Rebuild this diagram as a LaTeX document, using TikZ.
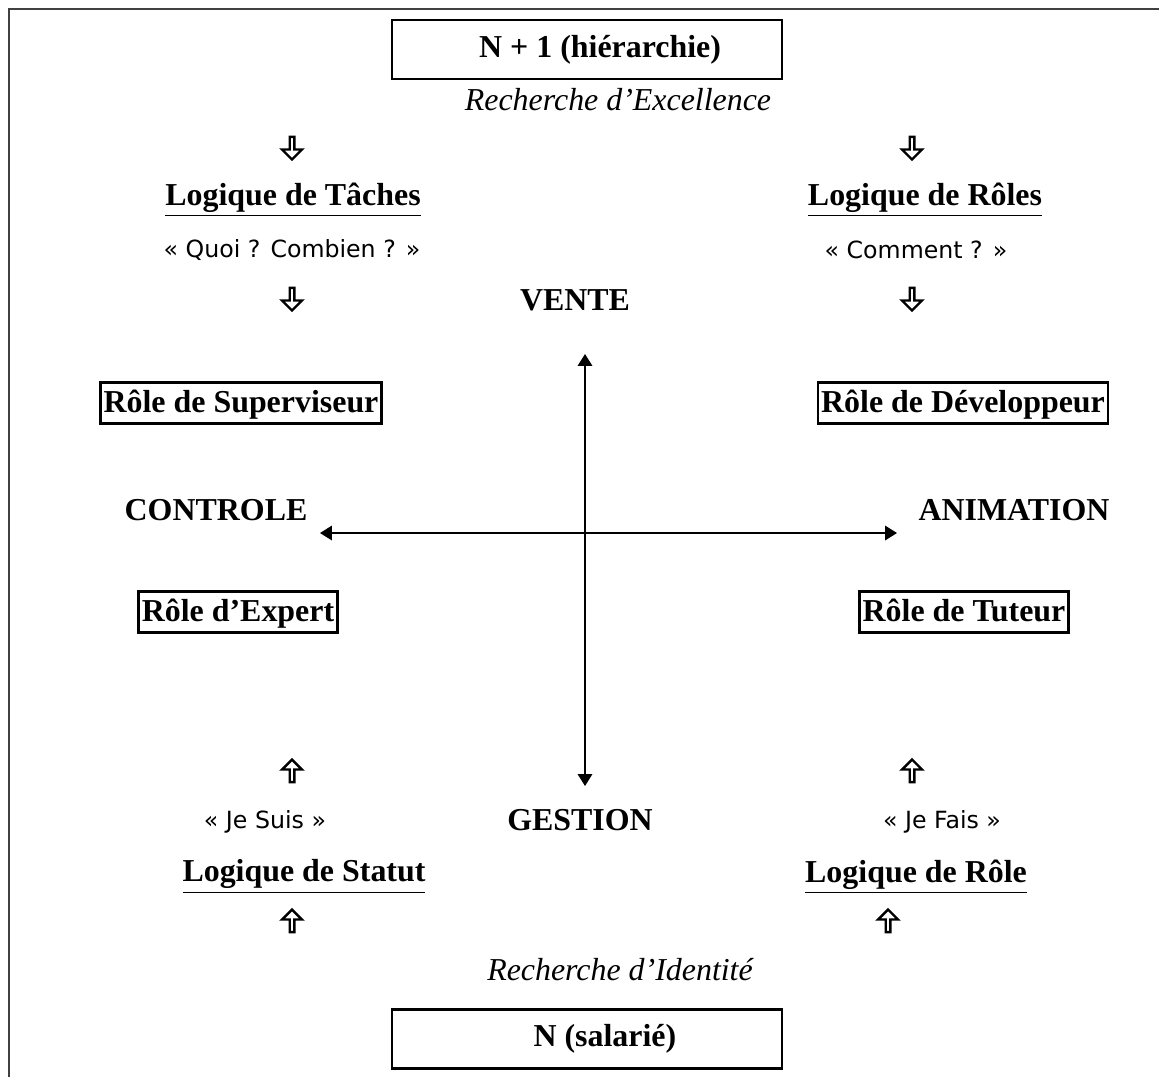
\documentclass[tikz,border=0pt]{standalone}
\usepackage{fontspec}
\setmainfont{Liberation Serif}
\newfontfamily\sansfont{DejaVu Sans}
\usetikzlibrary{arrows.meta,shapes.arrows}

\begin{document}
\begin{tikzpicture}[x=0.376pt, y=-0.376pt, thick,
    every node/.style = {font=\fontsize{12}{14}\selectfont},
    main/.style = {font=\fontsize{12}{14}\selectfont\bfseries, inner sep=0pt},
    logic/.style = {font=\fontsize{12}{14}\selectfont\bfseries, inner sep=0pt},
    rolebox/.style = {draw, line width=0.9pt, font=\fontsize{12}{14}\selectfont\bfseries, inner sep=1.2pt, text height=10pt, text depth=3pt},
    levelbox/.style = {draw, line width=0.8pt, minimum width=146.6pt, minimum height=22.2pt, inner sep=0pt, font=\fontsize{12}{14}\selectfont\bfseries},
    quote/.style = {font=\sansfont\fontsize{8.9}{10}\selectfont, inner sep=0pt},
    hollow/.style = {single arrow, draw, line width=0.9pt, inner sep=0pt, minimum height=8.5pt, minimum width=7.5pt, single arrow head extend=1.5pt},
    down/.style = {hollow, shape border rotate=270},
    up/.style = {hollow, shape border rotate=90},
    axis/.style = {line width=0.5pt, {Triangle[length=4.5pt,width=5.5pt]}-{Triangle[length=4.5pt,width=5.5pt]}}]
% page frame (top and left only)
\useasboundingbox (0,0) rectangle (1159,1077);
\draw[line width=0.8pt, black!75] (1159,9) -- (9,9) -- (9,1077);

    \node[levelbox] (chef) at (587,49.5) {\hspace*{9.8pt}N + 1 (hiérarchie)};
    \node[inner sep=0pt, font=\fontsize{12}{14}\selectfont\itshape] (excel) at (618,100) {Recherche d’Excellence};

    \node[down] (d1) at (292,147) {};
    \node[down] (d2) at (912,147) {};
    \node[logic] (taches) at (293,200) {\underline{Logique de Tâches}};
    \node[logic] (roles) at (925,200) {\underline{Logique de Rôles}};
    \node[quote] (quoi) at (292,250) {« Quoi ? Combien ? »};
    \node[quote] (comment) at (916,250) {« Comment ? »};
    \node[down] (d3) at (292,298) {};
    \node[down] (d4) at (912,298) {};
    \node[main] (vente) at (575,300) {VENTE};

    \node[rolebox] (superv) at (241,403) {Rôle de Superviseur};
    \node[rolebox] (dev) at (963,403) {Rôle de Développeur};
    \node[main] (controle) at (216,510) {CONTROLE};
    \node[main] (anim) at (1014,510) {ANIMATION};
    \node[rolebox] (expert) at (238,612) {Rôle d’Expert};
    \node[rolebox] (tuteur) at (964,612) {Rôle de Tuteur};

    \node[up] (u1) at (292,772) {};
    \node[up] (u2) at (912,772) {};
    \node[quote] (suis) at (265,822) {« Je Suis »};
    \node[main] (gestion) at (580,820) {GESTION};
    \node[quote] (fais) at (942,822) {« Je Fais »};
    \node[logic] (statut) at (304,877) {\underline{Logique de Statut}};
    \node[logic] (role) at (916,877) {\underline{Logique de Rôle}};
    \node[up] (u3) at (292,922) {};
    \node[up] (u4) at (888,922) {};
    \node[inner sep=0pt, font=\fontsize{12}{14}\selectfont\itshape] (ident) at (620,970) {Recherche d’Identité};
    \node[levelbox] (sal) at (587,1039) {\hspace*{13.5pt}N (salarié)};

    \coordinate (north) at (585,354);
    \coordinate (south) at (585,786);
    \coordinate (west) at (320,533);
    \coordinate (east) at (897,533);

\draw[axis] (north) -- (south);
\draw[axis] (west) -- (east);
\end{tikzpicture}
\end{document}
